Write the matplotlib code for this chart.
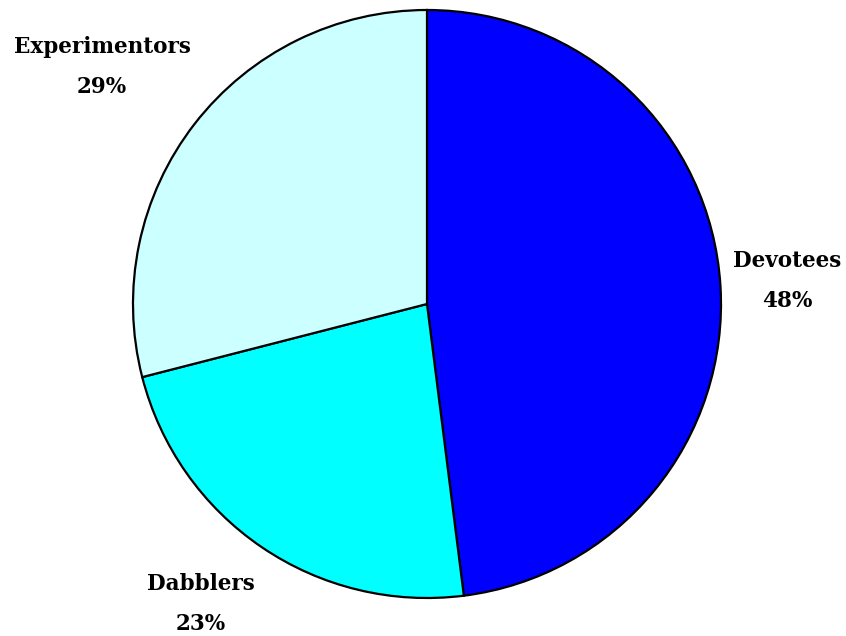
import numpy as np
import matplotlib.pyplot as plt

groups = ["Devotees", "Dabblers", "Experimentors"]
shares = [48, 23, 29]
colors = ["#0000ff", "#00ffff", "#ccffff"]
# label placement: distance in pie radii and angle nudge in degrees
label_dist = [1.227, 1.278, 1.368]
label_turn = [0.0, -2.8, 1.7]

fig = plt.figure(figsize=(8.46, 6.36), dpi=100)
ax = fig.add_axes([0, 0, 1, 1])

cx, cy, r = 427, 332, 294
wedges, _ = ax.pie(shares, colors=colors, startangle=90, counterclock=False,
                   center=(cx, cy), radius=r,
                   wedgeprops=dict(edgecolor="black", linewidth=1.6))
ax.set_xlim(0, 846)
ax.set_ylim(0, 636)
ax.set_aspect("equal")
ax.axis("off")

font = dict(fontsize=15.5, fontweight="bold", family="DejaVu Serif",
            ha="center", va="center")
for w, name, pct, d, t in zip(wedges, groups, shares, label_dist, label_turn):
    ang = np.deg2rad((w.theta1 + w.theta2) / 2 + t)
    x = cx + d * r * np.cos(ang)
    y = cy + d * r * np.sin(ang)
    ax.text(x, y + 20, name, **font)
    ax.text(x, y - 20, f"{pct}%", **font)

fig.savefig("out.png", dpi=100)
